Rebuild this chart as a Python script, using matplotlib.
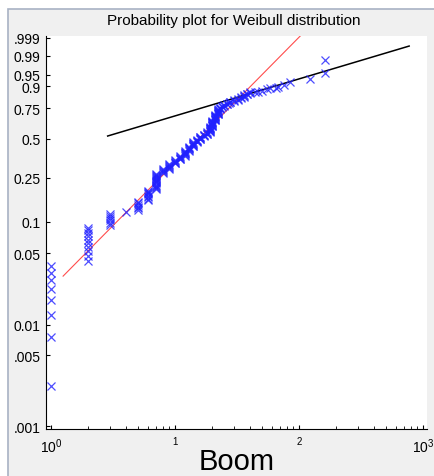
import matplotlib.pyplot as plt
from matplotlib.patches import Rectangle
import numpy as np

plt.rcParams['font.family'] = ['Liberation Sans', 'DejaVu Sans']
plt.rcParams['mathtext.fontset'] = 'custom'
plt.rcParams['mathtext.rm'] = 'Liberation Sans'
plt.rcParams['mathtext.it'] = 'Liberation Sans:italic'

# sample of "Boom" values (integer counts), ranked with (i-0.5)/n
boom_values = [1, 2, 3, 4, 5, 6, 7, 8, 9, 10, 11, 12, 13, 14, 15, 16, 17, 18, 19, 20,
               21, 22, 23, 24, 25, 26, 27, 28, 30, 32, 34, 36, 38, 40]
boom_counts = [8, 10, 6, 1, 6, 8, 15, 5, 6, 5, 5, 7, 6, 7, 4, 5, 3, 4, 9, 10,
               10, 9, 3, 2, 2, 2, 1, 2, 2, 2, 2, 3, 2, 2]
n_sample = 200

# sparse upper tail
tail_values = [44, 47, 50, 55, 58, 65, 68, 75, 85, 123, 162, 162]
tail_probs = [0.865, 0.870, 0.875, 0.882, 0.889, 0.893, 0.897, 0.905, 0.919, 0.934, 0.955, 0.985]

# two reference lines (Weibull scale, shape) and their x extent
red_scale, red_shape, red_x = 20.8, 1.242, [1.25, 130]
black_scale, black_shape, black_x = 6.5, 0.366, [2.86, 773]

prob_ticks = [0.001, 0.005, 0.01, 0.05, 0.1, 0.25, 0.5, 0.75, 0.9, 0.95, 0.99, 0.999]
prob_labels = ['.001', '.005', '0.01', '0.05', '0.1', '0.25', '0.5', '0.75', '0.9', '0.95', '0.99', '.999']


def wscale(p):
    p = np.asarray(p, dtype=float)
    return np.log(-np.log(1 - p))


def fit_line(scale, shape, xs):
    xs = np.asarray(xs, dtype=float)
    return xs, shape * (np.log(xs) - np.log(scale))


x_data = np.repeat(boom_values, boom_counts)
ranks = np.arange(1, len(x_data) + 1)
p_data = (ranks - 0.5) / n_sample

W, H = 435, 477
fig = plt.figure(figsize=(W / 100, H / 100), dpi=100, facecolor='white')
fig.patches.append(Rectangle((8 / W, -0.1), 1.2, 1.1 - 10 / H, transform=fig.transFigure,
                             facecolor='#f0f0f0', edgecolor='#a8b2c4', lw=1.2, zorder=-5))

ax = fig.add_axes([46 / W, 1 - 430 / H, (427 - 46) / W, (430 - 37) / H])
ax.set_facecolor('white')

ax.plot(*fit_line(red_scale, red_shape, red_x), color='red', lw=0.8, alpha=0.7)
ax.plot(*fit_line(black_scale, black_shape, black_x), color='black', lw=1.1)
ax.plot(x_data, wscale(p_data), 'x', color='#2020ff', ms=5.5, mew=0.9, alpha=0.8)
ax.plot(tail_values, wscale(tail_probs), 'x', color='#2020ff', ms=5.5, mew=0.9, alpha=0.8)

ax.set_xscale('log')
ax.set_xlim(0.91, 1077)
ax.set_ylim(-6.975, 1.978)

ax.set_yticks(wscale(prob_ticks))
ax.set_yticklabels(prob_labels)
ax.set_xticks([1, 10, 100, 1000])
ax.set_xticklabels(['$10^{0}$', '$^{1}$', '$^{2}$', '$10^{3}$'])

for side in ['top', 'right']:
    ax.spines[side].set_visible(False)
ax.tick_params(axis='both', which='both', direction='in', top=False, right=False)
ax.tick_params(axis='y', which='major', length=3, labelsize=10, pad=4)
ax.tick_params(axis='x', which='major', length=3, labelsize=10, pad=5)
ax.tick_params(axis='x', which='minor', length=2)
ax.tick_params(axis='y', which='minor', left=False)

fig.text(234 / W, 1 - 25 / H, 'Probability plot for Weibull distribution',
         ha='center', va='baseline', fontsize=11)
fig.text(237 / W, 1 - 470 / H, 'Boom', ha='center', va='baseline', fontsize=21)

fig.savefig('out.png', dpi=100, facecolor=fig.get_facecolor())
